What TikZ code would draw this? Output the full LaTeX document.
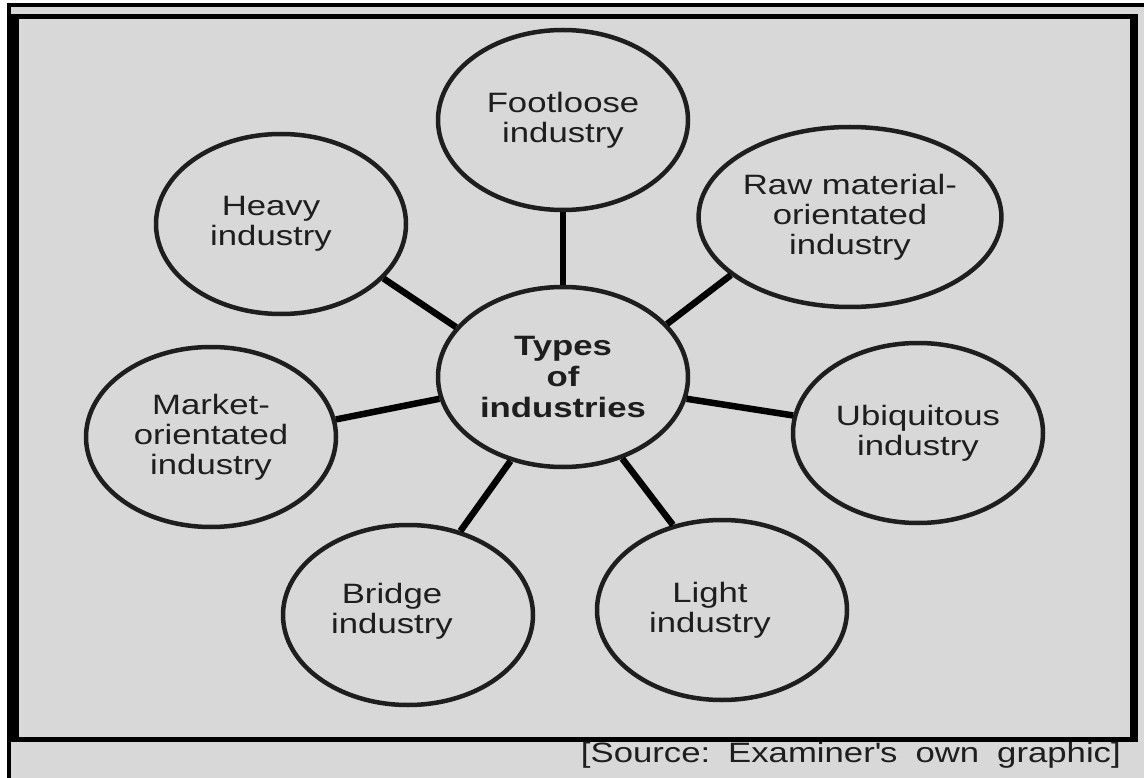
\documentclass[tikz,border=0pt]{standalone}
\usepackage{fontspec}
\setmainfont{Liberation Sans}[FakeStretch=1.24]
\usetikzlibrary{shapes.geometric}
\definecolor{bg}{HTML}{D8D8D8}
\definecolor{ink}{HTML}{1E1E1E}
\newcommand\sh[1]{\hspace*{#1}}
\begin{document}
\begin{tikzpicture}[x=1pt,y=-1pt,
  blob/.style={ellipse, draw=ink, line width=4.5pt, fill=bg, minimum width=250pt,
    minimum height=180pt, inner sep=0pt, align=center, text=ink,
    font=\fontsize{28}{30}\selectfont},
  link/.style={line width=6.5pt, draw=black}]
% frame and background
\fill[white] (0,0) rectangle (1144,778);
\fill[bg] (7,3) rectangle (1144,778);
\fill[black] (7,3) rectangle (1144,7);
\fill[black] (7,3) rectangle (11,778);
\fill[black] (7,14) rectangle (1138,742);
\fill[bg] (19,19) rectangle (1130,737);
\useasboundingbox (0,0) rectangle (1144,778);
% nodes
\node[blob, font=\fontsize{28}{31}\selectfont\bfseries] (center) at (563,377) {Types\\of\\industries};
\node[blob] (foot) at (563,120) {Footloose\\industry};
\node[blob] (heavy) at (281,224) {\sh{-20pt}Heavy\\\sh{-20pt}industry};
\node[blob] (raw) at (850,217) {Raw material-\\orientated\\industry};
\node[blob] (market) at (211,437) {Market-\\orientated\\industry};
\node[blob] (ubiq) at (918,433) {Ubiquitous\\industry};
\node[blob] (bridge) at (408,615) {\sh{-32pt}Bridge\\\sh{-32pt}industry\\[-16pt]\mbox{}};
\node[blob] (light) at (722,610) {\sh{-24pt}Light\\\sh{-24pt}industry};
% connectors
\draw[link] (foot.south) -- (center.north);
\draw[link] (heavy.332.8) -- (center.155.9);
\draw[link] (raw.206.6) -- (center.27.7);
\draw[link] (market.8.9) -- (center.190.2);
\draw[link] (ubiq.172.6) -- (center.350.8);
\draw[link] (bridge.58) -- (center.238);
\draw[link] (light.120.4) -- (center.306.5);
% source
\node[anchor=base east, inner sep=0pt, text=ink, font=\fontsize{28}{30}\selectfont] (src) at (1121,762)
  {[Source:\hspace{18pt}Examiner\textquotesingle s\hspace{18pt}own\hspace{18pt}graphic]};
\end{tikzpicture}
\end{document}
